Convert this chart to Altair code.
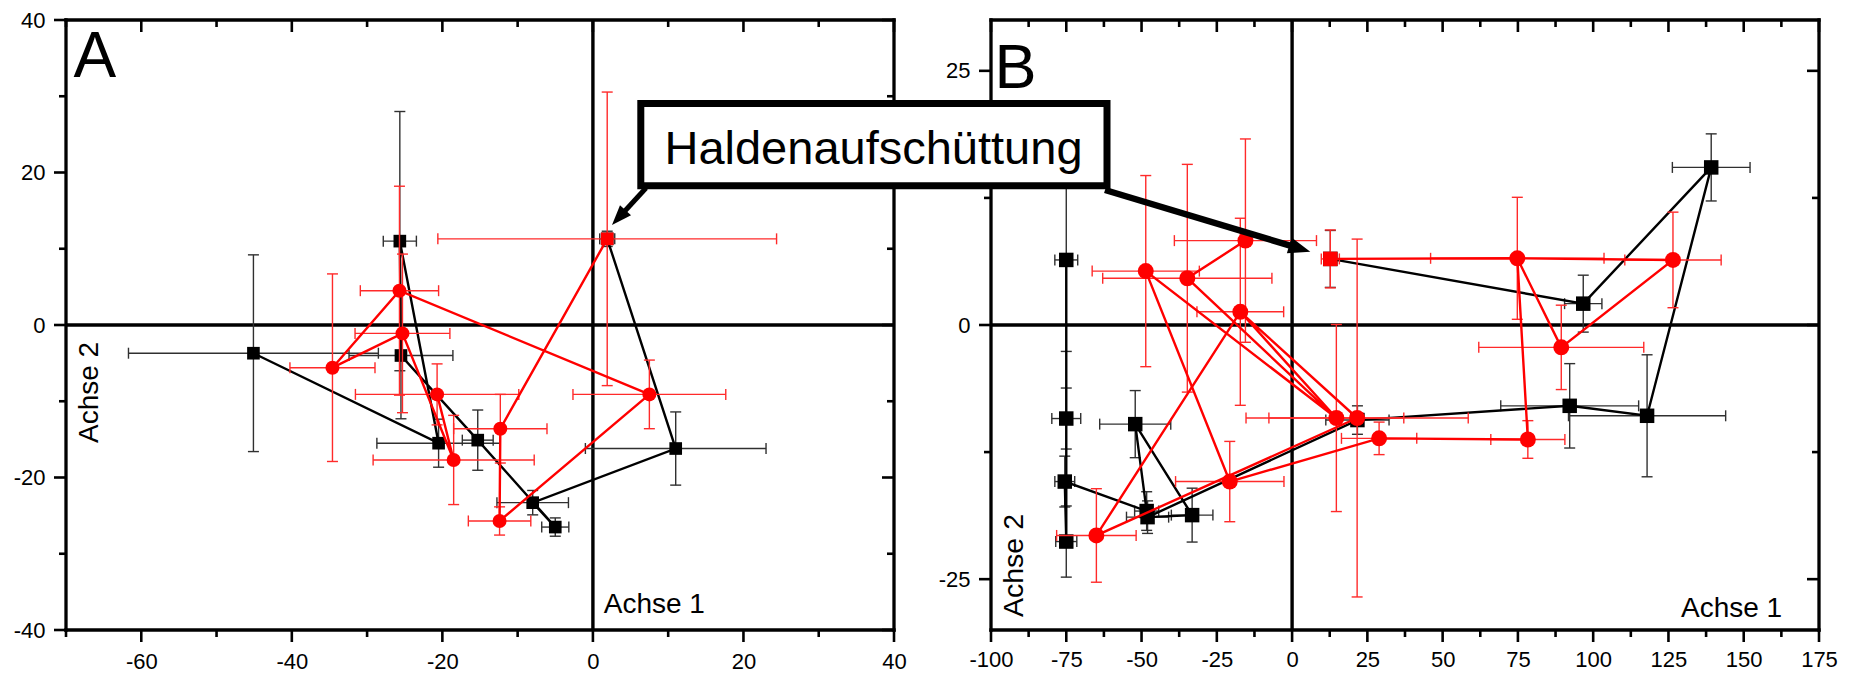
import math
import altair as alt
import numpy as np
import pandas as pd

FONT = "Liberation Sans"
RED = "#ff0000"

# ---------------- Panel A data (path order) ----------------
A_black_x = [1.9, 11.0, -8.0, -5.0, -15.3, -25.5, -25.65, -20.5, -45.1]
A_black_y = [11.3, -16.2, -23.3, -26.5, -15.1, -4.0, 11.0, -15.5, -3.7]
A_black_xerr = [1.0, 12.0, 4.75, 1.8, 2.05, 6.9, 2.2, 8.2, 16.6]
A_black_yerr = [1.0, 4.8, 1.6, 1.2, 3.95, 8.3, 17.0, 3.15, 12.9]
A_black_chains = [[0, 1, 2, 3, 4, 5, 6, 7, 8]]

A_red_x = [1.9, -12.3, -12.4, 7.5, -25.7, -34.6, -25.3, -18.5, -20.7]
A_red_y = [11.3, -13.6, -25.7, -9.1, 4.5, -5.6, -1.1, -17.7, -9.1]
A_red_xerr = [22.5, 6.2, 4.15, 10.15, 5.2, 5.65, 6.3, 10.7, 10.85]
A_red_yerr = [19.25, 4.5, 1.85, 4.5, 13.7, 12.3, 10.4, 5.85, 4.0]
A_red_chains = [[0, 1, 2, 3, 4, 5, 6, 7, 8]]

# ---------------- Panel B data ----------------
B_black_x = [12.7, 96.7, 139.2, 117.9, 92.2, 21.7, -48.0, -33.2, -52.1, -48.3, -75.5, -75.0, -75.0, -75.0]
B_black_y = [6.5, 2.1, 15.5, -8.93, -7.95, -9.35, -18.9, -18.7, -9.75, -18.3, -15.4, -21.3, -9.2, 6.4]
B_black_xerr = [2.0, 6.2, 12.9, 26.1, 22.9, 10.5, 7.0, 6.9, 11.8, 4.0, 3.3, 3.5, 4.8, 3.8]
B_black_yerr = [2.8, 2.8, 3.3, 6.0, 4.15, 1.4, 1.6, 2.65, 3.3, 1.9, 2.5, 3.5, 3.0, 9.0]
B_black_chains = [list(range(14))]

B_red_x = [12.7, 74.8, 126.5, 89.4, 78.3, 28.9, -20.7, -48.6, 14.7, -34.8, -15.5, -17.2, 21.6, -65.0]
B_red_y = [6.5, 6.56, 6.4, -2.2, -11.26, -11.15, -15.4, 5.3, -9.15, 4.6, 8.3, 1.3, -9.15, -20.7]
B_red_xerr = [3.0, 28.8, 16.0, 27.4, 12.3, 12.5, 18.0, 17.8, 22.4, 28.1, 23.6, 14.4, 36.9, 13.2]
B_red_yerr = [2.85, 6.0, 4.7, 4.15, 1.85, 1.6, 3.95, 9.4, 9.2, 11.2, 10.0, 9.2, 17.6, 4.6]
B_red_chains = [[0, 1, 2, 3, 1, 4, 5, 6, 7, 8, 9, 10], [8, 11, 12, 13, 11]]

# ---------------- axes / ticks ----------------
A_xdomain = [-70, 40]
A_ydomain = [-40, 40]
A_xlabels = [-60, -40, -20, 0, 20, 40]
A_ylabels = [-40, -20, 0, 20, 40]
A_xminor = [-70, -50, -30, -10, 10, 30]
A_yminor = [-30, -10, 10, 30]

B_xdomain = [-100, 175]
B_ydomain = [-30, 30]
B_xlabels = [-100, -75, -50, -25, 0, 25, 50, 75, 100, 125, 150, 175]
B_ylabels = [-25, 0, 25]
B_xminor = [-87.5, -62.5, -37.5, -12.5, 12.5, 37.5, 62.5, 87.5, 112.5, 137.5, 162.5]
B_yminor = [-12.5, 12.5]

W, H = 828, 610


def make_df(xs, ys, xe, ye):
    xs, ys, xe, ye = map(np.asarray, (xs, ys, xe, ye))
    return pd.DataFrame({"idx": np.arange(len(xs)), "x": xs, "y": ys,
                         "xlo": xs - xe, "xhi": xs + xe, "ylo": ys - ye, "yhi": ys + ye})


def panel(series, xdom, ydom, xlab, ylab, xmin, ymin, xpad, ypad, psq, pcirc, lw, texts, extra):
    sx = alt.Scale(domain=xdom, nice=False, zero=False)
    sy = alt.Scale(domain=ydom, nice=False, zero=False)
    ax = alt.Axis(values=xlab, title=None, grid=False, domain=False, ticks=False, tickSize=0,
                  labelPadding=xpad, labelFontSize=22, labelFont=FONT, labelColor="black",
                  labelFlush=False, labelOverlap=False, labelExpr="datum.value + ''")
    ay = alt.Axis(values=ylab, title=None, grid=False, domain=False, ticks=False, tickSize=0,
                  labelPadding=ypad, labelFontSize=22, labelFont=FONT, labelColor="black",
                  labelFlush=False, labelOverlap=False, labelExpr="datum.value + ''")

    def X(f):
        return alt.X(f, type="quantitative", scale=sx, axis=ax)

    def Y(f):
        return alt.Y(f, type="quantitative", scale=sy, axis=ay)

    layers = []
    zero = pd.DataFrame({"v": [0]})
    layers.append(alt.Chart(zero).mark_rule(color="black", strokeWidth=3.4).encode(x=X("v")))
    layers.append(alt.Chart(zero).mark_rule(color="black", strokeWidth=3.4).encode(y=Y("v")))

    for (xs, ys, xe, ye, chains, color, ebcolor, shape0, shape1) in series:
        df = make_df(xs, ys, xe, ye)
        base = alt.Chart(df)
        layers.append(base.mark_rule(color=ebcolor, strokeWidth=1.4).encode(
            x=X("xlo"), x2="xhi", y=Y("y")))
        layers.append(base.mark_rule(color=ebcolor, strokeWidth=1.4).encode(
            x=X("x"), y=Y("ylo"), y2="yhi"))
        for c in ("xlo", "xhi"):
            layers.append(base.mark_tick(orient="vertical", size=11, thickness=1.4,
                                         color=ebcolor, opacity=1).encode(x=X(c), y=Y("y")))
        for c in ("ylo", "yhi"):
            layers.append(base.mark_tick(orient="horizontal", size=11, thickness=1.4,
                                         color=ebcolor, opacity=1).encode(x=X("x"), y=Y(c)))
        rows = []
        for ci, ch in enumerate(chains):
            for k, i in enumerate(ch):
                rows.append({"chain": ci, "ord": k, "x": xs[i], "y": ys[i]})
        layers.append(alt.Chart(pd.DataFrame(rows)).mark_line(color=color, strokeWidth=lw).encode(
            x=X("x"), y=Y("y"), detail="chain:N", order="ord:Q"))
        first = df[df.idx == 0]
        rest = df[df.idx > 0]
        layers.append(alt.Chart(rest).mark_point(shape=shape1, filled=True, opacity=1, color=color,
                                                 size=(psq if shape1 == "square" else pcirc),
                                                 strokeWidth=0).encode(x=X("x"), y=Y("y")))
        layers.append(alt.Chart(first).mark_point(shape=shape0, filled=True, opacity=1, color=color,
                                                  size=psq, strokeWidth=0).encode(x=X("x"), y=Y("y")))

    # frame
    fx = pd.DataFrame({"v": xdom})
    fy = pd.DataFrame({"v": ydom})
    layers.append(alt.Chart(fx).mark_rule(color="black", strokeWidth=3.3, strokeCap="square").encode(x=X("v")))
    layers.append(alt.Chart(fy).mark_rule(color="black", strokeWidth=3.3, strokeCap="square").encode(y=Y("v")))

    # ticks: outward on bottom/left, inward on top/right
    for vals, L in ((xlab, 12), (xmin, 7)):
        d = alt.Chart(pd.DataFrame({"v": vals}))
        layers.append(d.mark_rule(color="black", strokeWidth=2.6).encode(
            x=X("v"), y=alt.value(H), y2=alt.value(H + L)))
        layers.append(d.mark_rule(color="black", strokeWidth=2.6).encode(
            x=X("v"), y=alt.value(0), y2=alt.value(L)))
    for vals, L in ((ylab, 12), (ymin, 7)):
        d = alt.Chart(pd.DataFrame({"v": vals}))
        layers.append(d.mark_rule(color="black", strokeWidth=2.6).encode(
            y=Y("v"), x=alt.value(0), x2=alt.value(-L)))
        layers.append(d.mark_rule(color="black", strokeWidth=2.6).encode(
            y=Y("v"), x=alt.value(W), x2=alt.value(W - L)))

    for (t, px, py, fs, ang) in texts:
        kw = dict(font=FONT, fontSize=fs, color="black", align="left", baseline="alphabetic")
        if ang:
            kw["angle"] = ang
        layers.append(alt.Chart(pd.DataFrame({"t": [t]})).mark_text(**kw).encode(
            x=alt.value(px), y=alt.value(py), text="t:N"))
    layers.extend(extra)
    return alt.layer(*layers).properties(width=W, height=H)


def arrow(start, tip, head_len, width):
    dx, dy = tip[0] - start[0], tip[1] - start[1]
    ln = math.hypot(dx, dy)
    ux, uy = dx / ln, dy / ln
    ang = math.degrees(math.atan2(dy, dx)) % 360
    one = pd.DataFrame({"a": [0]})
    shaft_end = (tip[0] - ux * head_len * 0.8, tip[1] - uy * head_len * 0.8)
    center = (tip[0] - ux * head_len / 2, tip[1] - uy * head_len / 2)
    shaft = alt.Chart(one).mark_rule(color="black", strokeWidth=width).encode(
        x=alt.value(start[0]), y=alt.value(start[1]),
        x2=alt.value(shaft_end[0]), y2=alt.value(shaft_end[1]))
    head = alt.Chart(one).mark_point(shape="M1,0L-1,-0.75L-1,0.75Z", filled=True, opacity=1,
                                     color="black", size=head_len ** 2, angle=ang,
                                     strokeWidth=0).encode(
        x=alt.value(center[0]), y=alt.value(center[1]))
    return [shaft, head]


# annotation geometry (pixels relative to each panel's plot area)
arrowA = arrow((580, 168), (546, 205), 20, 5)
arrowB = arrow((114, 170), (319.3, 231.7), 22, 6.5)
one = pd.DataFrame({"t": ["Haldenaufschüttung"]})
box = alt.Chart(one).mark_rect(fill="white", stroke="black", strokeWidth=7).encode(
    x=alt.value(-350.2), x2=alt.value(116), y=alt.value(83.5), y2=alt.value(165.8))
box_text = alt.Chart(one).mark_text(font=FONT, fontSize=47, color="black", align="center",
                                    baseline="alphabetic").encode(
    x=alt.value(-117.5), y=alt.value(144), text="t:N")

seriesA = [
    (A_black_x, A_black_y, A_black_xerr, A_black_yerr, A_black_chains, "black", "#303030", "square", "square"),
    (A_red_x, A_red_y, A_red_xerr, A_red_yerr, A_red_chains, RED, "#ff2a2a", "square", "circle"),
]
seriesB = [
    (B_black_x, B_black_y, B_black_xerr, B_black_yerr, B_black_chains, "black", "#303030", "square", "square"),
    (B_red_x, B_red_y, B_red_xerr, B_red_yerr, B_red_chains, RED, "#ff2a2a", "square", "circle"),
]

textsA = [("A", 7.6, 57, 64, 0), ("Achse 2", 32, 423, 28, 270), ("Achse 1", 537.7, 593.3, 28, 0)]
textsB = [("B", 3.4, 68, 63, 0), ("Achse 2", 32, 597, 28.5, 270), ("Achse 1", 690, 596.7, 28, 0)]

pA = panel(seriesA, A_xdomain, A_ydomain, A_xlabels, A_ylabels, A_xminor, A_yminor,
           21, 21, 160, 196, 2.4, textsA, arrowA)
pB = panel(seriesB, B_xdomain, B_ydomain, B_xlabels, B_ylabels, B_xminor, B_yminor,
           19, 21, 210, 256, 2.4, textsB, arrowB + [box, box_text])

chart = alt.hconcat(pA, pB, spacing=97, bounds="flush").properties(
    padding={"left": 12, "top": 8, "right": 6, "bottom": 0}
).configure_view(strokeWidth=0).configure(background="white")

chart.save("out.html", embed_options={"renderer": "svg", "actions": False})
